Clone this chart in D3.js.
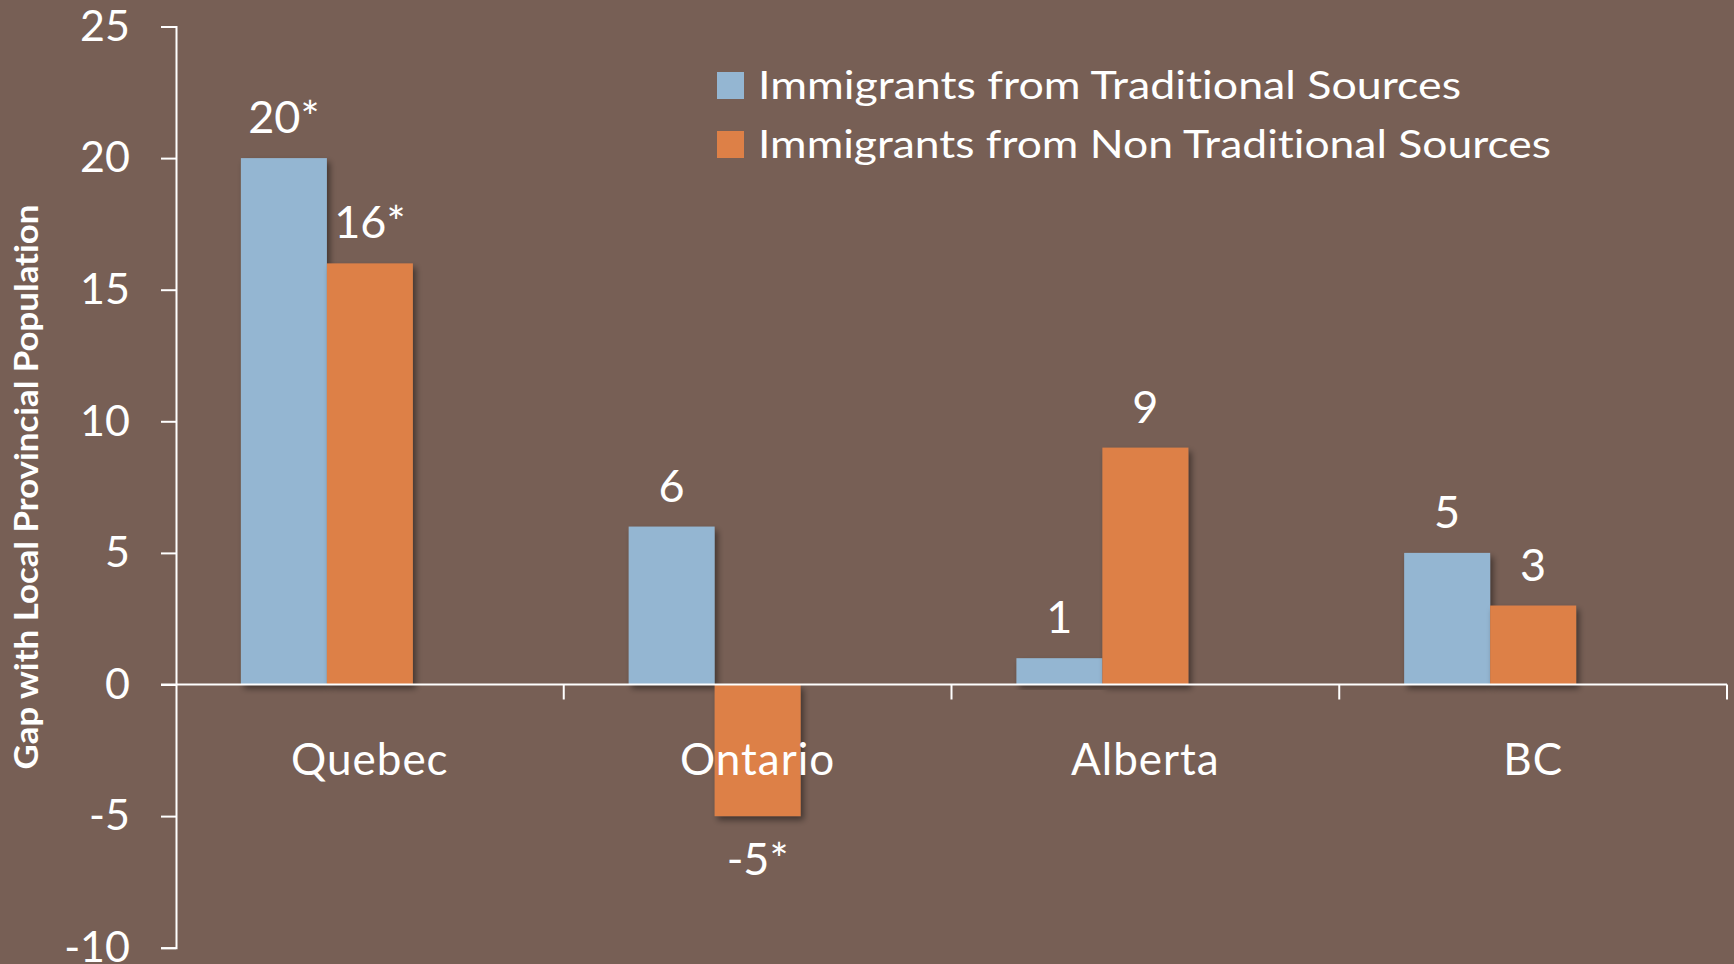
<!DOCTYPE html>
<html>
<head>
<meta charset="utf-8">
<script src="https://cdn.jsdelivr.net/npm/d3@7"></script>
<style>
  body { margin: 0; background: #775F55; }
  text { font-family: Lato, "Open Sans", sans-serif; fill: #fff; font-variant-ligatures: none; }
</style>
</head>
<body>
<div id="vis"></div>
<script>

// data
var provinces = ['Quebec', 'Ontario', 'Alberta', 'BC'];
var seriesNames = ['Immigrants from Traditional Sources', 'Immigrants from Non Traditional Sources'];
var traditional = [20, 6, 1, 5];
var nonTraditional = [16, -5, 9, 3];
var traditionalLabels = ['20*', '6', '1', '5'];
var nonTraditionalLabels = ['16*', '-5*', '9', '3'];
var yTicks = [-10, -5, 0, 5, 10, 15, 20, 25];
var seriesColors = ['#94B6D2', '#DD8047'];

var width = 1734;
var height = 964;

var svg = d3.select('#vis')
  .append('svg')
  .attr('width', width)
  .attr('height', height);

svg.append('rect')
  .attr('width', width)
  .attr('height', height)
  .attr('fill', '#775F55');

var defs = svg.append('defs');
defs.append('filter')
  .attr('id', 'shadow')
  .attr('x', '-20%').attr('y', '-20%')
  .attr('width', '140%').attr('height', '140%')
  .append('feDropShadow')
  .attr('dx', 3).attr('dy', 4)
  .attr('stdDeviation', 3)
  .attr('flood-color', '#000')
  .attr('flood-opacity', 0.45);

var y = d3.scaleLinear()
  .domain([-10, 25])
  .range([947.7, 26.5]);

var x0 = d3.scaleBand()
  .domain(provinces)
  .range([176, 1727])
  .paddingInner(0)
  .paddingOuter(0);

// the original sheet left room for a third (empty) series, so bars sit left of centre
var x1 = d3.scaleBand()
  .domain(['trad', 'nontrad', 'spare'])
  .range([0, x0.bandwidth()])
  .paddingInner(0)
  .paddingOuter(0.755);

var rows = provinces.map(function(p, i) {
  return [
    { province: p, key: 'trad', value: traditional[i], label: traditionalLabels[i], color: seriesColors[0] },
    { province: p, key: 'nontrad', value: nonTraditional[i], label: nonTraditionalLabels[i], color: seriesColors[1] }
  ];
});
var bars = [].concat.apply([], rows);

// bars
svg.append('g')
  .selectAll('rect')
  .data(bars)
  .enter()
  .append('rect')
  .attr('x', function(d) { return x0(d.province) + x1(d.key); })
  .attr('y', function(d) { return y(Math.max(0, d.value)); })
  .attr('width', x1.bandwidth())
  .attr('height', function(d) { return Math.abs(y(d.value) - y(0)); })
  .attr('fill', function(d) { return d.color; })
  .attr('filter', 'url(#shadow)');

// value labels
svg.append('g')
  .selectAll('text')
  .data(bars)
  .enter()
  .append('text')
  .attr('x', function(d) { return x0(d.province) + x1(d.key) + x1.bandwidth() / 2; })
  .attr('y', function(d) { return d.value >= 0 ? y(d.value) - 25 : y(d.value) + 59; })
  .attr('text-anchor', 'middle')
  .attr('font-size', 45)
  .text(function(d) { return d.label; });

// y axis
var yAxis = svg.append('g')
  .attr('transform', 'translate(176,0)')
  .call(d3.axisLeft(y).tickValues(yTicks).tickSize(15).tickPadding(31)
    .tickFormat(function(d) { return String(d); }));
yAxis.select('.domain').attr('stroke', '#fff').attr('stroke-width', 2);
yAxis.selectAll('.tick line').attr('stroke', '#fff').attr('stroke-width', 2);
yAxis.selectAll('.tick text')
  .attr('fill', '#fff')
  .attr('font-size', 43)
  .attr('font-family', 'Lato, sans-serif');

// x axis along zero
var xAxis = svg.append('g')
  .attr('transform', 'translate(0,' + y(0) + ')');
xAxis.append('line')
  .attr('x1', 161).attr('x2', 1727)
  .attr('stroke', '#fff').attr('stroke-width', 2);
xAxis.selectAll('.cat-tick')
  .data(provinces)
  .enter()
  .append('line')
  .attr('class', 'cat-tick')
  .attr('x1', function(d) { return x0(d) + x0.bandwidth(); })
  .attr('x2', function(d) { return x0(d) + x0.bandwidth(); })
  .attr('y1', 0).attr('y2', 15)
  .attr('stroke', '#fff').attr('stroke-width', 2);

// category labels
svg.append('g')
  .selectAll('text')
  .data(provinces)
  .enter()
  .append('text')
  .attr('x', function(d) { return x0(d) + x0.bandwidth() / 2; })
  .attr('y', 775)
  .attr('text-anchor', 'middle')
  .attr('font-size', 44)
  .attr('letter-spacing', 1)
  .text(function(d) { return d; });

// y title
svg.append('text')
  .attr('transform', 'translate(38,487) rotate(-90)')
  .attr('text-anchor', 'middle')
  .attr('font-size', 32)
  .attr('font-weight', 'bold')
  .attr('textLength', 565)
  .attr('lengthAdjust', 'spacingAndGlyphs')
  .text('Gap with Local Provincial Population');

// legend
var legendWidths = [703, 793];
var legend = svg.append('g')
  .selectAll('g')
  .data(seriesNames)
  .enter()
  .append('g')
  .attr('transform', function(d, i) { return 'translate(717,' + (72 + i * 59) + ')'; });
legend.append('rect')
  .attr('width', 27)
  .attr('height', 27)
  .attr('fill', function(d, i) { return seriesColors[i]; });
legend.append('text')
  .attr('x', 41)
  .attr('y', 27)
  .attr('font-size', 38)
  .attr('textLength', function(d, i) { return legendWidths[i]; })
  .attr('lengthAdjust', 'spacingAndGlyphs')
  .text(function(d) { return d; });

</script>
</body>
</html>
